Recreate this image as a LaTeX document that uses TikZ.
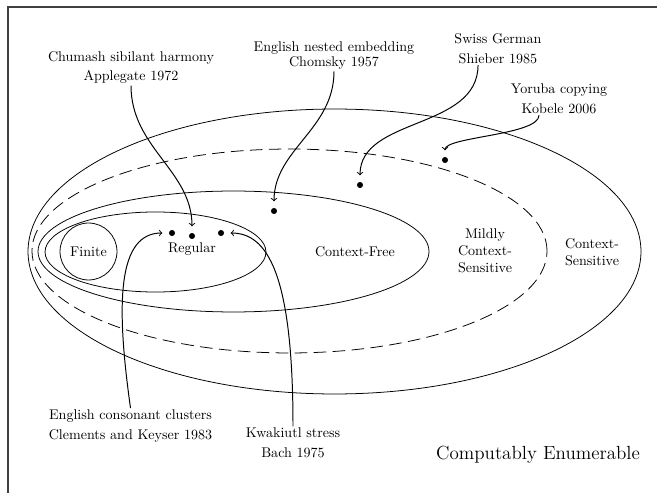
\documentclass[tikz,border=0pt]{standalone}
\usetikzlibrary{shapes.geometric}
\begin{document}
\begin{tikzpicture}[x=0.711pt,y=-0.711pt,
  region/.style={draw, ellipse, inner sep=0pt, line width=0.55pt},
  dot/.style={circle, fill, inner sep=0pt, minimum size=4.3pt},
  lbl/.style={align=center, inner sep=1pt},
  ptr/.style={->, line width=0.7pt, shorten >=4.5pt},
  frame/.style={line width=0.9pt, black!75}]
\useasboundingbox (0,0) rectangle (657,493);
\draw[frame] (657,7) -- (8,7) -- (8,493);
% regions
\node[region, minimum width=435.8pt, minimum height=202.6pt] (cs) at (334.5,251.5) {};
\node[region, dash pattern=on 9pt off 4.5pt, minimum width=366.2pt, minimum height=145pt] (mcs) at (289.5,251) {};
\node[region, minimum width=278pt, minimum height=86pt] (cf) at (233.5,251.5) {};
\node[region, minimum width=157.1pt, minimum height=56.9pt] (reg) at (155.5,252) {};
\node[region, circle, minimum size=40.5pt] (fin) at (88.5,251.5) {};
% region names
\node (tfin) at (88.5,252) {Finite};
\node (treg) at (192,249) {Regular};
\node (tcf) at (355,252) {Context-Free};
\node[align=center] (tmcs) at (485,251) {Mildly\\Context-\\Sensitive};
\node[align=center] (tcs) at (592,252) {Context-\\Sensitive};
\node (tce) at (538,455) {\fontsize{13.5}{16}\selectfont Computably Enumerable};
% dots
\node[dot] (d1) at (172,233) {};
\node[dot] (d2) at (192,236) {};
\node[dot] (d3) at (221,233) {};
\node[dot] (d4) at (274,211) {};
\node[dot] (d5) at (360,185) {};
\node[dot] (d6) at (445,160) {};
% labels
\node[lbl] (chumash) at (131,67.5) {Chumash sibilant harmony\\[2.2pt]Applegate 1972};
\node[lbl] (nested) at (334,55.5) {English nested embedding\\[-0.8pt]Chomsky 1957};
\node[lbl] (swiss) at (498,48.3) {Swiss German\\[2.2pt]Shieber 1985};
\node[lbl] (yoruba) at (559,98.5) {Yoruba copying\\[2.2pt]Kobele 2006};
\node[lbl] (cons) at (130.5,426) {English consonant clusters\\[2.2pt]Clements and Keyser 1983};
\node[lbl] (kwak) at (293,443) {Kwakiutl stress\\[2.2pt]Bach 1975};
% pointers
\draw[ptr] (chumash.south) to[out=-90,in=90] (d2.north);
\draw[ptr] (nested.south) to[out=-90,in=90] (d4.north);
\draw[ptr] ([xshift=-14.2pt]swiss.south) to[out=-90,in=90] (d5.north);
\draw[ptr] ([xshift=-14.2pt]yoruba.south) to[out=-90,in=90,looseness=0.5] (d6.north);
\draw[ptr] (cons.north) to[out=98,in=180,out distance=77pt,in distance=36pt] (d1.west);
\draw[ptr] (kwak.north) to[out=90,in=0,out distance=110pt,in distance=30pt] (d3.east);
\end{tikzpicture}
\end{document}
